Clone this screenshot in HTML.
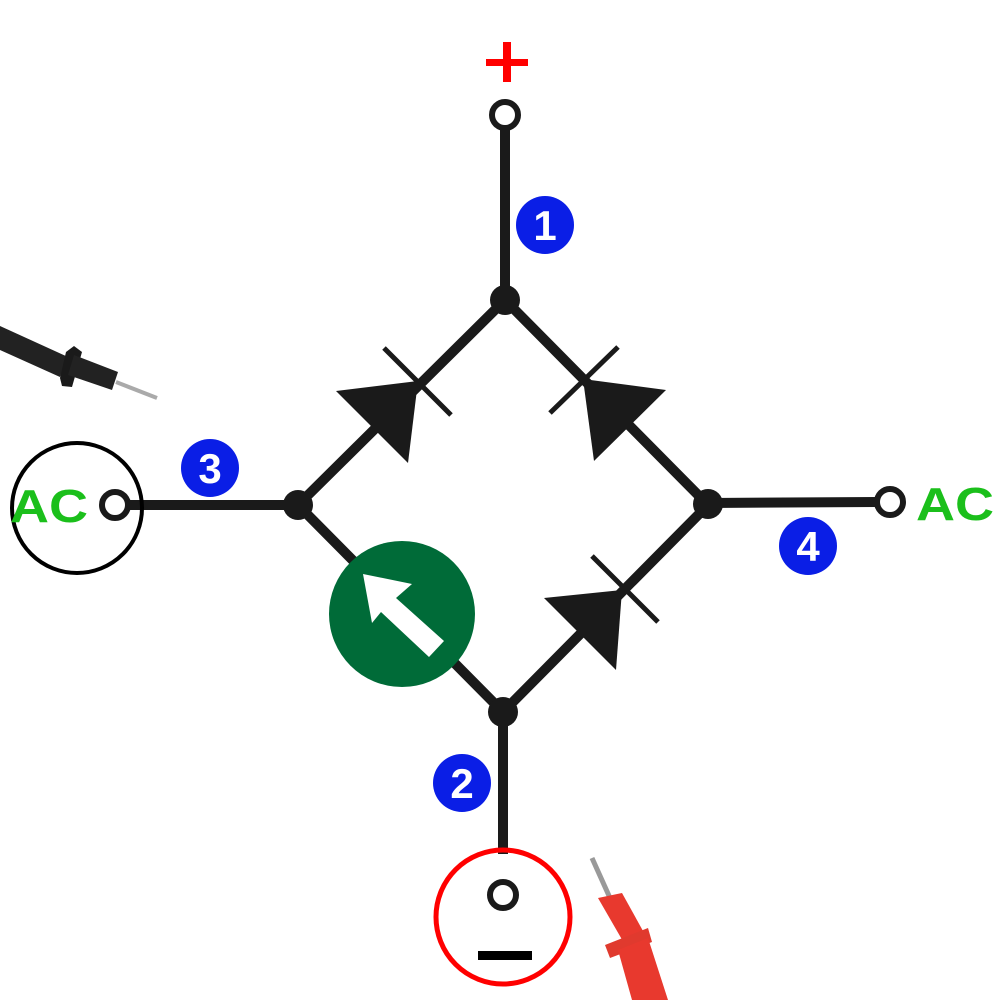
<!DOCTYPE html>
<html><head><style>html,body{margin:0;padding:0;background:#fff;width:1000px;height:1000px;overflow:hidden}</style></head>
<body>
<svg width="1000" height="1000" viewBox="0 0 1000 1000" xmlns="http://www.w3.org/2000/svg">
<g stroke="#1a1a1a" stroke-width="10" fill="none">
<line x1="505" y1="128" x2="505" y2="300"/>
<line x1="128" y1="505" x2="298" y2="505"/>
<line x1="708" y1="503" x2="877" y2="502"/>
<line x1="503" y1="712" x2="503" y2="854"/>
<polyline points="298,505 505,300 708,505 503,712 298,505"/>
</g>
<g fill="#1a1a1a">
<circle cx="505" cy="300" r="15"/><circle cx="298" cy="505" r="15"/>
<circle cx="708" cy="504" r="15"/><circle cx="503" cy="712" r="15"/>
<polygon points="336,391 418,381 408,463"/>
<polygon points="583,379 666,390 594,461"/>
<polygon points="544,598 622,590 616,670"/>
</g>
<g stroke="#1a1a1a" stroke-width="5">
<line x1="384" y1="348" x2="451" y2="415"/>
<line x1="550" y1="413" x2="618" y2="347"/>
<line x1="592" y1="556" x2="658" y2="622"/>
</g>
<g stroke="#1a1a1a" stroke-width="6" fill="#fff">
<circle cx="505" cy="115" r="13"/><circle cx="115" cy="505" r="13"/>
<circle cx="890" cy="502" r="13"/><circle cx="503" cy="895" r="13"/>
</g>
<circle cx="77" cy="508" r="65" stroke="#000" stroke-width="4" fill="none"/>
<circle cx="503" cy="917" r="67" stroke="#f00" stroke-width="5" fill="none"/>
<rect x="478" y="951" width="54" height="9" fill="#000"/>
<rect x="486" y="59" width="42" height="7" fill="#f00"/><rect x="503" y="42" width="8" height="40" fill="#f00"/>
<circle cx="402" cy="614" r="73" fill="#006b38"/>
<polygon points="363,574 412,584 396,598 444,641 429,657 381,612 372,623" fill="#fff"/>
<g fill="#0a1ee6">
<circle cx="545" cy="225" r="29"/><circle cx="210" cy="468" r="29"/>
<circle cx="808" cy="546" r="29"/><circle cx="462" cy="783" r="29"/>
</g>
<g fill="#fff" font-family="Liberation Sans, sans-serif" font-weight="bold" font-size="42" text-anchor="middle">
<text x="545" y="240">1</text><text x="210" y="483">3</text>
<text x="808" y="561">4</text><text x="462" y="798">2</text>
</g>
<g fill="#1bbf1b" font-family="Liberation Sans, sans-serif" font-weight="bold" font-size="46">
<text x="10" y="522" textLength="78" lengthAdjust="spacingAndGlyphs">AC</text><text x="916" y="520" textLength="78" lengthAdjust="spacingAndGlyphs">AC</text>
</g>
<g>
<polygon points="0,326 68,357 60,377 0,350" fill="#222"/>
<polygon points="66,352 74,346 82,352 72,387 62,386 60,378" fill="#1a1a1a"/>
<polygon points="74,355 118,372 112,390 68,375" fill="#222"/>
<line x1="116" y1="382" x2="157" y2="398" stroke="#aaa" stroke-width="4"/>
</g>
<g>
<line x1="592" y1="858" x2="610" y2="898" stroke="#999" stroke-width="5"/>
<polygon points="598,898 622,893 648,940 628,950" fill="#e8392e"/>
<polygon points="605,945 648,928 652,942 610,958" fill="#e03a2e"/>
<polygon points="618,950 648,938 668,1000 632,1000" fill="#e8392e"/>
</g>
</svg>
</body></html>
